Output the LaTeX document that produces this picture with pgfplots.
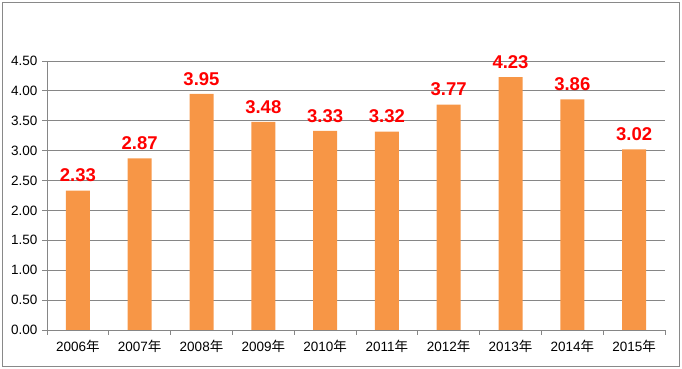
\documentclass[border=0pt]{standalone}
\usepackage{fontspec}
\setmainfont{Liberation Sans}
\newfontfamily\cjk{Noto Sans CJK SC}
\usepackage{pgfplots}
\pgfplotsset{compat=1.18}
\definecolor{barorange}{HTML}{F79646}
\definecolor{gridgray}{HTML}{868686}
\definecolor{framegray}{HTML}{898989}
\begin{document}
\begin{tikzpicture}
\useasboundingbox (0,0) rectangle (682pt,369pt);
\draw[framegray, line width=1pt] (2pt,2.5pt) rectangle (679.5pt,366.5pt);
\begin{axis}[
  at={(47pt,39pt)}, anchor=south west,
  scale only axis, width=618pt, height=269pt,
  xmin=-0.5, xmax=9.5, ymin=0, ymax=4.5,
  ytick={0,0.5,...,4.5},
  ymajorgrids, grid style={gridgray, line width=0.8pt},
  axis x line*=bottom, axis y line*=left,
  axis line style={gridgray, line width=0.8pt, -},
  xtick={0,...,9},
  xticklabels={2006{\cjk 年},2007{\cjk 年},2008{\cjk 年},2009{\cjk 年},2010{\cjk 年},2011{\cjk 年},2012{\cjk 年},2013{\cjk 年},2014{\cjk 年},2015{\cjk 年}},
  major x tick style={draw=none},
  minor xtick={-0.5,0.5,...,9.5},
  minor x tick style={gridgray, line width=0.8pt},
  major y tick style={gridgray, line width=0.8pt},
  tick align=outside,
  major tick length=5pt, minor tick length=5pt,
  ticklabel style={font=\fontsize{13.5}{13.5}\selectfont, text=black},
  /pgf/number format/assume math mode=true,
  yticklabel style={/pgf/number format/fixed, /pgf/number format/precision=2, /pgf/number format/zerofill, xshift=-1pt},
  xticklabel style={yshift=-2pt},
  ybar, bar width=24pt,
  nodes near coords,
  nodes near coords style={font=\bfseries\fontsize{18.5}{18.5}\selectfont, text=red, yshift=5pt,
    /pgf/number format/fixed, /pgf/number format/precision=2, /pgf/number format/zerofill},
  clip=false,
]
\addplot[fill=barorange, draw=none] coordinates {
  (0,2.33) (1,2.87) (2,3.95) (3,3.48) (4,3.33) (5,3.32) (6,3.77) (7,4.23) (8,3.86) (9,3.02)
};
\end{axis}
\end{tikzpicture}
\end{document}
